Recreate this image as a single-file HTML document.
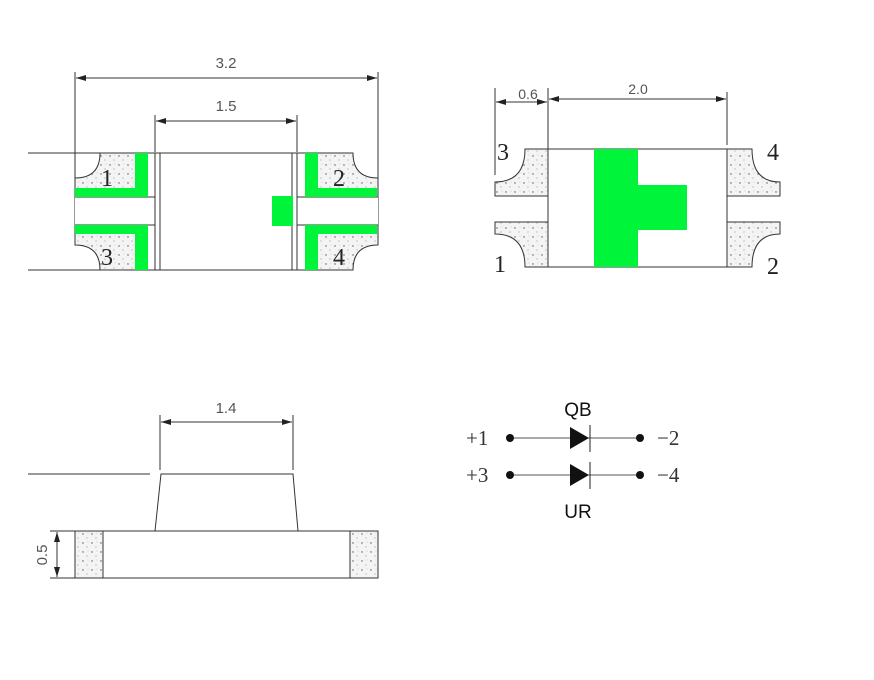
<!DOCTYPE html>
<html><head><style>body{margin:0;background:#fff}svg{display:block}</style></head><body>
<svg width="874" height="680" viewBox="0 0 874 680" xmlns="http://www.w3.org/2000/svg">
<defs>
<pattern id="sp" width="9" height="9" patternUnits="userSpaceOnUse"><rect width="9" height="9" fill="#f4f4f4"/><circle cx="2" cy="3" r="0.7" fill="#555"/><circle cx="6" cy="7" r="0.5" fill="#777"/><circle cx="7" cy="2" r="0.4" fill="#999"/></pattern>
<marker id="a" viewBox="0 0 10 6" refX="10" refY="3" markerWidth="10" markerHeight="6" orient="auto-start-reverse" markerUnits="userSpaceOnUse"><path d="M0,0L10,3L0,6Z" fill="#222"/></marker>
</defs>
<g stroke="#333" stroke-width="1" fill="none">
<!-- top-left view -->
<line x1="28" y1="153" x2="100" y2="153"/><line x1="28" y1="270" x2="100" y2="270"/>
<path d="M100,153 Q100,178 75,178 L75,245 Q100,245 100,270 L353,270 Q353,245 378,245 L378,178 Q353,178 353,153 Z" fill="url(#sp)"/>
<rect x="148" y="153" width="157" height="117" fill="#fff" stroke="none"/>
<rect x="75" y="197" width="303" height="28" fill="#fff" stroke="none"/>
<line x1="75" y1="197" x2="155" y2="197"/><line x1="75" y1="225" x2="155" y2="225"/>
<line x1="297" y1="197" x2="378" y2="197"/><line x1="297" y1="225" x2="378" y2="225"/>
<line x1="100" y1="153" x2="353" y2="153"/><line x1="100" y1="270" x2="353" y2="270"/>
<line x1="155" y1="153" x2="155" y2="270"/><line x1="160" y1="153" x2="160" y2="270"/>
<line x1="292" y1="153" x2="292" y2="270"/><line x1="297" y1="153" x2="297" y2="270"/>
<line x1="75" y1="72" x2="75" y2="178"/><line x1="378" y1="72" x2="378" y2="178"/>
<line x1="76" y1="78" x2="377" y2="78" marker-start="url(#a)" marker-end="url(#a)"/>
<line x1="155" y1="115" x2="155" y2="152"/><line x1="297" y1="115" x2="297" y2="152"/>
<line x1="156" y1="121" x2="296" y2="121" marker-start="url(#a)" marker-end="url(#a)"/>
</g>
<g fill="#00f53a">
<rect x="135" y="153" width="13" height="44"/><rect x="75" y="188" width="73" height="9"/>
<rect x="135" y="225" width="13" height="45"/><rect x="75" y="225" width="73" height="9"/>
<rect x="305" y="153" width="13" height="44"/><rect x="305" y="188" width="72" height="9"/>
<rect x="305" y="225" width="13" height="45"/><rect x="305" y="225" width="72" height="9"/>
<rect x="272" y="196" width="21" height="30"/>
</g>
<g font-family="Liberation Serif,serif" font-size="24" fill="#222">
<text x="101" y="186">1</text><text x="333" y="186">2</text><text x="101" y="265">3</text><text x="333" y="265">4</text>
</g>
<g font-family="Liberation Sans,sans-serif" font-size="15" fill="#555" text-anchor="middle">
<text x="226" y="68">3.2</text><text x="226" y="111">1.5</text>
<text x="528" y="99" font-size="14">0.6</text><text x="638" y="94" font-size="14">2.0</text>
<text x="226" y="413">1.4</text>
<text transform="translate(47,555) rotate(-90)">0.5</text>
</g>
<!-- top-right view -->
<g stroke="#333" stroke-width="1">
<path d="M525,149 Q525,182 495,182 L495,196 L548,196 L548,149 Z" fill="url(#sp)"/>
<path d="M525,267 Q525,234 495,234 L495,222 L548,222 L548,267 Z" fill="url(#sp)"/>
<path d="M752,149 Q752,182 780,182 L780,196 L727,196 L727,149 Z" fill="url(#sp)"/>
<path d="M752,267 Q752,234 780,234 L780,222 L727,222 L727,267 Z" fill="url(#sp)"/>
<rect x="548" y="149" width="179" height="118" fill="#fff"/>
<rect x="594" y="149" width="44" height="118" fill="#00f53a" stroke="none"/>
<rect x="637" y="185" width="50" height="45" fill="#00f53a" stroke="none"/>
<g fill="none">
<line x1="495" y1="88" x2="495" y2="175"/><line x1="548" y1="88" x2="548" y2="149"/><line x1="727" y1="92" x2="727" y2="145"/>
<line x1="496" y1="102" x2="547" y2="102" marker-start="url(#a)" marker-end="url(#a)"/>
<line x1="549" y1="99" x2="726" y2="99" marker-start="url(#a)" marker-end="url(#a)"/>
</g></g>
<g font-family="Liberation Serif,serif" font-size="24" fill="#222">
<text x="497" y="160">3</text><text x="767" y="160">4</text><text x="494" y="272">1</text><text x="767" y="274">2</text>
</g>
<!-- side view -->
<g stroke="#333" stroke-width="1">
<line x1="28" y1="474" x2="150" y2="474" fill="none"/>
<path d="M155,531 L161,474 L293,474 L298,531" fill="#fff"/>
<rect x="75" y="531" width="303" height="47" fill="#fff"/>
<rect x="75" y="531" width="28" height="47" fill="url(#sp)"/>
<rect x="350" y="531" width="28" height="47" fill="url(#sp)"/>
<g fill="none">
<line x1="160" y1="415" x2="160" y2="470"/><line x1="293" y1="415" x2="293" y2="470"/>
<line x1="161" y1="422" x2="292" y2="422" marker-start="url(#a)" marker-end="url(#a)"/>
<line x1="50" y1="531" x2="75" y2="531"/><line x1="50" y1="578" x2="75" y2="578"/>
<line x1="57" y1="532" x2="57" y2="577" marker-start="url(#a)" marker-end="url(#a)"/>
</g></g>
<!-- schematic -->
<g stroke="#555" stroke-width="1">
<line x1="510" y1="438" x2="640" y2="438"/><line x1="510" y1="475" x2="640" y2="475"/>
<line x1="590" y1="425" x2="590" y2="452" stroke="#222"/><line x1="590" y1="462" x2="590" y2="489" stroke="#222"/>
</g>
<g fill="#111">
<circle cx="510" cy="438" r="4"/><circle cx="640" cy="438" r="4"/><circle cx="510" cy="475" r="4"/><circle cx="640" cy="475" r="4"/>
<path d="M570,427 L589,438 L570,449Z"/><path d="M570,464 L589,475 L570,486Z"/>
</g>
<g font-family="Liberation Sans,sans-serif" font-size="19" fill="#111" text-anchor="middle">
<text x="578" y="416">QB</text><text x="578" y="518">UR</text>
</g>
<g font-family="Liberation Serif,serif" font-size="21" fill="#333">
<text x="466" y="445">+1</text><text x="466" y="482">+3</text><text x="657" y="445">−2</text><text x="657" y="482">−4</text>
</g>
</svg>
</body></html>
